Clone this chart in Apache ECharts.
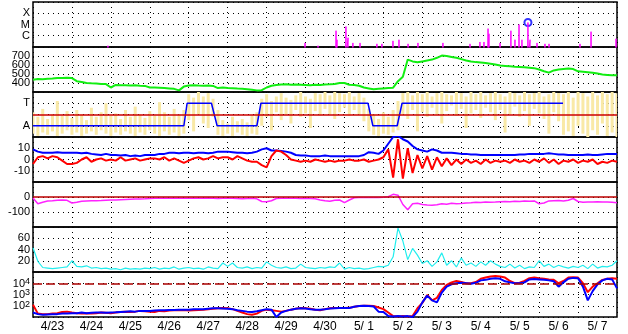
<!DOCTYPE html>
<html><head><meta charset="utf-8">
<script src="https://cdn.jsdelivr.net/npm/echarts@6/dist/echarts.min.js"></script>
<style>html,body{margin:0;padding:0;background:#fff}#c{width:628px;height:334px}</style>
</head><body><div id="c"></div>
<script>
// ---------- DATA ----------
const dayLabels = ['4/23','4/24','4/25','4/26','4/27','4/28','4/29','4/30','5/ 1','5/ 2','5/ 3','5/ 4','5/ 5','5/ 6','5/ 7'];
const STEP = 3; // hours between samples, starting 4/23 00:00

// X-ray flares (hour, peak flux W/m2)
const flareTimes = [46.2,167.7,175.7,186.8,187.4,192.9,194.2,197.2,201.6,212.0,215.1,221.9,225.6,231.2,237.3,252.7,269.4,275.5,278.0,280.5,281.1,287.9,294.6,297.1,299.6,301.4,305.1,306.4,310.7,315.6,318.1,337.2,344.0,359.4];
const flarePeaks = [1.3e-7,2.3e-7,1.3e-7,2.8e-6,4.4e-7,6.6e-6,6.6e-7,2.3e-7,2.3e-7,1.9e-7,1.9e-7,3.5e-7,4.4e-7,1.9e-7,2.3e-7,2.3e-7,1.9e-7,2.8e-7,2.8e-7,4.3e-6,1.5e-6,2.3e-7,2.8e-6,4.4e-7,1e-5,4.4e-7,1.5e-5,4.4e-7,2.3e-7,1.9e-7,1.9e-7,1.9e-7,2.3e-6,5.4e-7];
const maxFlare = [305.1, 1.5e-5];

// Solar wind speed (km/s)
const speed = [435,445,442,446,450,455,456,458, 455,420,412,400,396,394,390,388, 350,378,376,374,372,375,370,368,
 350,350,348,345,340,335,318,360, 372,375,372,370,372,368,344,350, 345,342,338,335,330,325,318,320,
 350,370,378,382,385,380,382,380, 378,376,380,378,382,385,390,400, 400,380,378,370,350,340,330,335,
 340,345,348,420,470,660,640,630, 640,650,660,680,705,700,690,680, 665,650,640,632,628,622,615,605,
 595,590,585,580,578,575,570,565, 550,530,515,540,550,555,560,555, 530,525,520,515,505,495,490,485, 485];

// IMF sector polarity (1 = Away, 3 = Toward)
const polTimes = [0,93,95,110,113.5,138,140.5,206.5,209.5,224.5,227.5,326.7];
const polValues = [1,1,3,3,1,1,3,3,1,1,3,3];
const sectorBoundary = 2;
// IMF angle spread (low / high per sample)
const angLo = [0.3,0.1,0.4,0.2,0.5,0.1,0.3,0.6, 0.2,0.4,0.1,0.3,0.5,0.2,0.6,0.3, 0.1,0.4,0.2,0.5,0.3,0.1,0.4,0.2, 0.6,0.3,0.1,0.5,0.2,0.4,0.1,0.3,
 1.5,0.5,2.0,1.2,0.8,1.8,
 0.2,0.1,0.3,0.1,0.4,0.2,0.1,0.3,0.2,
 1.0,1.8,0.6,2.2,1.5,2.0,1.2,2.4,1.8,2.1,0.8,2.3,1.9,2.5,2.0,1.6,2.2,2.6,1.9,2.4,2.0,1.4,
 0.5,
 0.2,0.1,0.3,0.2,0.4,
 0.6,
 2.0,1.6,2.4,0.5,2.2,1.8,2.6,2.0,1.2,2.3,2.8,1.9,2.5,0.8,2.1,2.4,1.7,2.6,2.2,1.5,2.4,0.4,2.0,2.7,1.8,2.3,1.0,2.5,2.1,1.6,0.3,2.2,1.4,
 0.2,0.5,0.1,1.0,0.3,0.0,0.6,0.2,1.2,0.1,0.4,0.0];
const angHi = [2.2,1.8,2.5,1.6,2.0,3.2,1.9,2.3, 1.7,2.4,2.0,1.5,2.6,1.8,2.2,3.0, 1.9,2.1,1.6,2.4,1.8,2.7,2.0,1.7, 2.3,1.9,3.1,2.2,1.8,2.5,2.0,2.4,
 3.8,3.5,4.0,3.6,3.9,3.4,
 2.4,1.5,1.2,1.8,1.4,1.6,1.3,1.9,2.2,
 3.4,3.8,3.2,3.6,3.9,3.5,3.3,3.7,4.0,3.6,3.4,3.9,3.8,4.0,3.7,4.0,3.9,3.8,4.0,3.6,3.9,3.5,
 2.5,
 2.0,1.6,2.2,1.8,2.4,
 3.2,
 3.9,4.0,3.7,4.0,3.8,4.0,3.6,3.9,4.0,3.8,3.7,4.0,3.9,3.6,4.0,3.8,4.0,3.7,3.9,4.0,3.8,3.6,4.0,3.9,3.7,4.0,3.8,3.9,4.0,3.6,3.8,4.0,3.9,
 3.8,4.0,3.5,4.0,3.9,3.6,4.0,3.7,4.0,3.8,4.0,3.9];

// IMF Bt and Bz (nT)
const bt = [9,7,6,6,6,6.5,6,6, 6,6,5.5,6,5,4.5,4,5, 4,4,3.5,4,3,3.5,3,4, 4,4,5,5,6,6,5.5,6,
 6,5.5,6,6,5.5,6,7,7, 7,6.5,6,6,5.5,6,7,9, 10,8,8,7.5,7,6,4,3.5, 3.5,3,3,3,3.5,3,3,3,
 3,3,3,3,4,6.5,6,5, 8,14,20,21,18,16,12,9, 8,7,9,8,6,6,6,5.5, 5,5,4.5,4.5,4,4,4,4,
 4,4,4,4,4.5,4.5,5,5, 5,5,5.5,5,4.5,4.5,4,4, 4,4,4.5,4,4,4.5,5,5, 5];
const bz = [-4,2,3,1,3,2,-1,-4, -4,-3,0,2,-2,0,1,-1, 0,-1,2,-1,0,1,-1,0, 1,1,0,2,-1,1,-1,-3,
 -1,1,2,0,1,3,1,2, 2,0,3,1,-1,-2,-2,-5, -7,3,8,7,4,0,-1,-2, -1,-2,0,-1,-2,-1,-2,-1,
 -1,0,-1,-1,0,-2,-1,0, 2,9,-16,18,-17,10,-12,4, -8,3,-9,2,-6,1,-5,0, -4,0,-3,-1,-4,0,-3,-1,
 -2,-1,-3,0,-2,-1,-3,0, -2,1,-3,0,-4,-1,-2,0, -3,-1,-2,0,-4,-2,-3,-1, -2];

// Geomagnetic index (nT)
const dst = [-7,-45,-35,-27,-25,-22,-20,-22, -40,-35,-28,-26,-25,-25,-24,-22, -20,-20,-18,-16,-15,-14,-13,-12,
 -10,-9,-9,-9,-8,-9,-8,-9, -9,-8,-8,-9,-7,-8,-10,-9, -8,-9,-10,-12,-10,-9,-12,-30,
 -31,-25,-10,-9,-8,-9,-9,-10, -9,-10,-12,-20,-25,-28,-22,-20, -38,-20,-5,-3,-3,-4,-3,-3,
 -2,2,18,12,-50,-85,-45,-42, -50,-53,-55,-52,-45,-48,-42,-45, -44,-40,-38,-35,-36,-33,-35,-34,
 -32,-30,-31,-28,-30,-27,-29,-26, -45,-40,-26,-25,-24,-26,-22,-10, -30,-35,-33,-34,-32,-34,-33,-35, -38];

// Solar wind density-like quantity
const dens = [43,19,8,7,6,7,8,9, 20,10,9,11,7,8,6,7, 5,6,4,7,5,6,5,7, 6,8,5,7,6,9,5,7,
 8,6,7,5,9,7,6,16, 10,16,8,7,9,6,8,7, 18,12,8,7,9,6,7,14, 8,7,6,8,7,9,8,16,
 5,8,6,7,5,6,8,10, 9,12,27,78,55,22,42,30, 15,20,10,18,34,12,20,9, 25,12,16,10,18,12,20,14,
 10,8,14,7,12,6,9,8, 20,10,14,8,12,9,7,10, 8,12,6,14,7,10,9,12, 20];

// Electron flux (two satellites)
const fluxRed = [120,20,18,18,20,22,28,30, 25,22,20,22,20,22,25,24, 22,25,28,30,28,30,35,32, 30,28,35,32,38,40,40,42,
 38,40,42,45,50,55,60,62, 60,50,35,25,18,16,20,35, 45,40,35,30,35,45,55,63, 60,55,45,40,50,60,63,63,
 63,65,80,95,100,100,95,70, 50,25,12,11,12,11,12,60, 180,900,300,500,2500,7000,12000,16000,
 13000,10000,10000,13000,25000,32000,40000,45000, 40000,32000,16000,10000,11000,16000,28000,32000,
 28000,25000,22000,20000,10000,16000,32000,35000, 32000,10000,1600,5000,10000,20000,25000,28000, 25000];
const fluxBlue = [25,18,16,17,18,18,20,20, 22,22,25,22,24,25,25,24, 25,26,28,30,32,30,35,35, 35,38,40,40,42,42,45,45,
 45,48,50,50,55,60,60,58, 55,50,40,35,30,28,32,40, 50,45,10,25,35,45,55,60, 58,50,45,45,50,58,60,62,
 63,63,80,95,100,95,85,30, 28,12,11,12,11,12,10,30, 200,800,300,200,1500,5000,8000,10000,
 11000,10000,9000,11000,18000,20000,25000,28000, 25000,15000,12000,10000,10000,12000,22000,24000,
 22000,20000,18000,15000,5000,12000,25000,30000, 28000,5000,300,2000,8000,18000,25000,22000, 3500];
const fluxAlert = 1e4;

// ---------- CHART ----------
const FONT = 'Liberation Sans';
const TOPS = [2,47,92,137,182,227,272], H = 45;
const dotted = () => ({show:true, lineStyle:{color:'#000', type:[1,4], width:1}});
const pairs = arr => arr.map((v,i)=>[i*STEP, v]);

const flareData = [];
flareTimes.forEach((t,i)=>{ flareData.push([t-0.15,1e-8],[t,flarePeaks[i]],[t+0.15,1e-8]); });

const grids = TOPS.map(tp=>({left:33, width:584, top:tp, height:H, show:true, borderColor:'#000', borderWidth:1.5, backgroundColor:'transparent', outerBoundsMode:'none'}));

const xAxes = TOPS.map((_,i)=>({
  gridIndex:i, type:'value', min:0, max:360, interval:24,
  axisLine:{show:false}, axisTick:{show:false}, splitLine:dotted(),
  axisLabel: i===6 ? {show:true, customValues: dayLabels.map((_,k)=>k*24+12),
     formatter: v=>dayLabels[Math.round((v-12)/24)], color:'#000', fontSize:12, fontFamily:FONT, margin:4}
   : {show:false}
}));

const yBase = (o)=>Object.assign({axisLine:{show:false}, axisTick:{show:false}, splitLine:dotted()}, o);
const lbl = (extra)=>Object.assign({color:'#000', fontSize:11, fontFamily:FONT, margin:3, showMinLabel:false, showMaxLabel:false}, extra||{});
const xrayNames = {'-6':'C','-5':'M','-4':'X'};
const yAxes = [
  yBase({gridIndex:0, type:'log', logBase:10, min:1e-7, max:1e-3,
    axisLabel:lbl({formatter:v=>xrayNames[String(Math.round(Math.log10(v)))]||''})}),
  yBase({gridIndex:1, type:'value', min:300, max:800, interval:100, axisLabel:lbl()}),
  yBase({gridIndex:2, type:'value', min:0, max:4, interval:1,
    axisLabel:lbl({formatter:v=>v===1?'A':(v===3?'T':'')})}),
  yBase({gridIndex:3, type:'value', min:-20, max:20, interval:10, axisLabel:lbl()}),
  yBase({gridIndex:4, type:'value', min:-200, max:100, interval:100, axisLabel:lbl()}),
  yBase({gridIndex:5, type:'value', min:0, max:80, interval:20, axisLabel:lbl()}),
  yBase({gridIndex:6, type:'log', logBase:10, min:10, max:1e5,
    axisLabel:lbl({
      formatter:v=>{const e=Math.round(Math.log10(v)); return (e>=2&&e<=4)?'{b|10}{s|'+e+'}':'';},
      rich:{b:{fontSize:11, fontFamily:FONT, color:'#000', lineHeight:12, verticalAlign:'bottom'},
            s:{fontSize:9, fontFamily:FONT, color:'#000', lineHeight:12, verticalAlign:'top', padding:[0,0,5,0]}}
    })})
];

const line = (gi, data, color, width, extra)=>Object.assign({
  type:'line', xAxisIndex:gi, yAxisIndex:gi, data, showSymbol:false, symbol:'none',
  lineStyle:{color, width}, itemStyle:{color}, animation:false, silent:true, clip:true
}, extra||{});
const refLine = (val, color, type)=>({silent:true, symbol:'none', animation:false, label:{show:false},
  lineStyle:{color, width:1.5, type:type||'solid'}, data:[{yAxis:val}]});

const series = [
  line(0, flareData, '#ff00ff', 1),
  {type:'scatter', xAxisIndex:0, yAxisIndex:0, data:[maxFlare], symbol:'emptyCircle', symbolSize:7,
   itemStyle:{color:'#0000ff', borderWidth:1.3}, animation:false, silent:true},
  line(1, pairs(speed), '#11ee11', 2),
  {type:'custom', xAxisIndex:2, yAxisIndex:2, clip:true, animation:false, silent:true,
   data: angLo.map((lo,i)=>[i*STEP, lo, angHi[i]]),
   encode:{x:0, y:[1,2]},
   renderItem:(params, api)=>{
     const p1 = api.coord([api.value(0), api.value(2)]);
     const p2 = api.coord([api.value(0), api.value(1)]);
     return {type:'rect', shape:{x:p1[0]-1.5, y:p1[1], width:3, height:p2[1]-p1[1]},
             style:{fill:'#f9e9a6'}};
   }},
  line(2, polTimes.map((t,i)=>[t, polValues[i]]), '#0000ff', 1.5, {markLine: refLine(sectorBoundary, '#cc0000')}),
  line(3, pairs(bt), '#0000ff', 2),
  line(3, pairs(bz), '#ff0000', 2),
  line(4, pairs(dst), '#ff22ff', 1.5, {markLine: refLine(0, '#bb0000')}),
  line(5, pairs(dens), '#22eeee', 1.2),
  line(6, pairs(fluxRed), '#ff0000', 2, {markLine: refLine(fluxAlert, '#aa0000', [9,4])}),
  line(6, pairs(fluxBlue), '#0000ff', 2)
];

const chart = echarts.init(document.getElementById('c'), null, {renderer:'canvas'});
chart.setOption({animation:false, backgroundColor:'#fff', grid:grids, xAxis:xAxes, yAxis:yAxes, series});
</script>
</body></html>
